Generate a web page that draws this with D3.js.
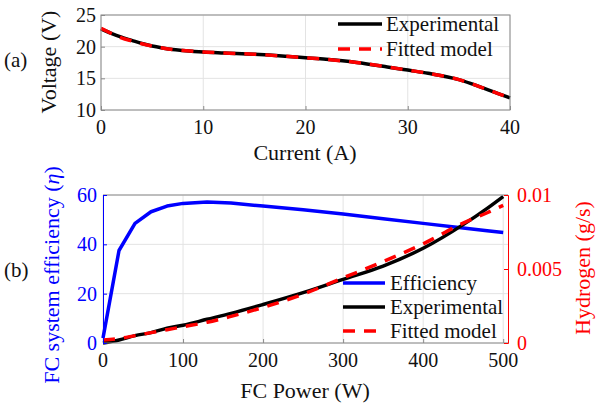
<!DOCTYPE html>
<html>
<head>
<meta charset="utf-8">
<script src="https://cdn.jsdelivr.net/npm/d3@7"></script>
</head>
<body style="margin:0">
<div id="chart"></div>
<script>
// (a) polarization curve
var current = [0, 1, 2, 3, 4, 5, 6, 7, 8, 10, 12, 15, 18, 20, 22, 25, 28, 30, 32, 35, 37, 38, 40];
var voltageExp = [22.8, 22.1, 21.5, 21.0, 20.5, 20.1, 19.8, 19.55, 19.4, 19.15, 19.0, 18.8, 18.5, 18.25, 18.0, 17.5, 16.8, 16.3, 15.8, 14.8, 13.7, 13.1, 11.9];
var voltageFit = [22.9, 22.1, 21.4, 20.9, 20.45, 20.1, 19.8, 19.55, 19.4, 19.15, 19.0, 18.8, 18.5, 18.25, 18.0, 17.5, 16.8, 16.3, 15.8, 14.8, 13.7, 13.1, 11.9];

// (b) efficiency and hydrogen vs power
var power = [0, 20, 40, 60, 80, 100, 130, 160, 200, 250, 300, 350, 400, 450, 480, 500];
var efficiency = [2, 37.5, 48.5, 53.2, 55.5, 56.6, 57.2, 56.8, 55.5, 54, 52.3, 50.4, 48.5, 46.6, 45.5, 44.8];
var hydrogenExp = [0, 0.0002, 0.0005, 0.0007, 0.001, 0.0012, 0.0016, 0.002, 0.0026, 0.0034, 0.0043, 0.0052, 0.0064, 0.008, 0.0091, 0.0099];
var hydrogenFit = [0.0002, 0.0003, 0.0005, 0.0007, 0.0009, 0.0011, 0.0014, 0.0018, 0.0024, 0.0033, 0.0044, 0.0055, 0.0067, 0.0081, 0.0088, 0.0093];

var xTicksA = [0, 10, 20, 30, 40], yTicksA = [10, 15, 20, 25];
var xTicksB = [0, 100, 200, 300, 400, 500], yTicksB = [0, 20, 40, 60], y2TicksB = [0, 0.005, 0.01];
var y2Labels = ["0", "0.005", "0.01"];

var width = 598, height = 409;
var svg = d3.select("#chart").append("svg")
	.attr("width", width).attr("height", height)
	.attr("font-family", "serif");

var grid = "#e3e3e3", edge = "#8a8a8a";

function label(x, y, str, size, color, anchor, rot) {
	var t = svg.append("text")
		.style("font-family", "serif")
		.attr("font-size", size).attr("fill", color || "#111")
		.attr("text-anchor", anchor || "start");
	if (rot) t.attr("transform", "translate(" + x + "," + y + ") rotate(-90)");
	else t.attr("x", x).attr("y", y);
	t.text(str);
	return t;
}

function tickLines(g, color) {
	g.selectAll("text").remove();
	g.selectAll(".tick line").attr("stroke", color);
}

// ---------- panel (a) ----------
var xA = d3.scaleLinear().domain([0, 40]).range([101, 510]);
var yA = d3.scaleLinear().domain([10, 25]).range([110, 15]);

var gA = svg.append("g");
gA.selectAll(".gx").data(xTicksA).enter().append("line")
	.attr("x1", xA).attr("x2", xA).attr("y1", 15).attr("y2", 110)
	.attr("stroke", grid);
gA.selectAll(".gy").data(yTicksA).enter().append("line")
	.attr("x1", 101).attr("x2", 510).attr("y1", yA).attr("y2", yA)
	.attr("stroke", grid);

var lineA = d3.line().x(function (d) { return xA(d[0]) }).y(function (d) { return yA(d[1]) }).curve(d3.curveMonotoneX);
gA.append("path").datum(d3.zip(current, voltageExp))
	.attr("d", lineA).attr("fill", "none").attr("stroke", "black").attr("stroke-width", 3.5);
gA.append("path").datum(d3.zip(current, voltageFit))
	.attr("d", lineA).attr("fill", "none").attr("stroke", "#ff0000").attr("stroke-width", 3.5)
	.attr("stroke-dasharray", "12,9");

gA.append("rect").attr("x", 101).attr("y", 15).attr("width", 409).attr("height", 95)
	.attr("fill", "none").attr("stroke", edge).attr("stroke-width", 1);

gA.append("g").attr("transform", "translate(0,110)")
	.call(d3.axisBottom(xA).tickValues(xTicksA).tickSize(-4))
	.call(function (g) { g.select(".domain").remove() })
	.call(function (g) { tickLines(g, edge) });
gA.append("g").attr("transform", "translate(101,0)")
	.call(d3.axisLeft(yA).tickValues(yTicksA).tickSize(-4))
	.call(function (g) { g.select(".domain").remove() })
	.call(function (g) { tickLines(g, edge) });

xTicksA.forEach(function (d) { label(xA(d), 134, String(d), 20, "#111", "middle") });
yTicksA.forEach(function (d) { label(96, yA(d) + 7, String(d), 20, "#111", "end") });

label(305, 160, "Current (A)", 22, "#111", "middle");
label(56, 62, "Voltage (V)", 22, "#111", "middle", true);
label(4, 67, "(a)", 21, "#111");

var legA = [["Experimental", "black", null], ["Fitted model", "#ff0000", "12,9"]];
legA.forEach(function (l, i) {
	var y = 24 + i * 25;
	gA.append("line").attr("x1", 338).attr("x2", 382).attr("y1", y).attr("y2", y)
		.attr("stroke", l[1]).attr("stroke-width", 3.5).attr("stroke-dasharray", l[2]);
	label(386, y + 7, l[0], 21, "#111");
});

// ---------- panel (b) ----------
var xB = d3.scaleLinear().domain([0, 506]).range([103, 508]);
var yB = d3.scaleLinear().domain([0, 60]).range([343, 195]);
var y2B = d3.scaleLinear().domain([0, 0.01]).range([343, 195]);

var gB = svg.append("g");
gB.selectAll(".gx").data(xTicksB).enter().append("line")
	.attr("x1", xB).attr("x2", xB).attr("y1", 195).attr("y2", 343)
	.attr("stroke", grid);
gB.selectAll(".gy").data(yTicksB).enter().append("line")
	.attr("x1", 103).attr("x2", 508).attr("y1", yB).attr("y2", yB)
	.attr("stroke", grid);

var lineEff = d3.line().x(function (d) { return xB(d[0]) }).y(function (d) { return yB(d[1]) });
var lineH = d3.line().x(function (d) { return xB(d[0]) }).y(function (d) { return y2B(d[1]) }).curve(d3.curveMonotoneX);

gB.append("path").datum(d3.zip(power, efficiency))
	.attr("d", lineEff).attr("fill", "none").attr("stroke", "#0000ff").attr("stroke-width", 3.5)
	.attr("stroke-linejoin", "round");
gB.append("path").datum(d3.zip(power, hydrogenExp))
	.attr("d", lineH).attr("fill", "none").attr("stroke", "black").attr("stroke-width", 3.5);
gB.append("path").datum(d3.zip(power, hydrogenFit))
	.attr("d", lineH).attr("fill", "none").attr("stroke", "#ff0000").attr("stroke-width", 3.5)
	.attr("stroke-dasharray", "12,9");

gB.append("line").attr("x1", 103).attr("x2", 508).attr("y1", 195).attr("y2", 195).attr("stroke", edge);
gB.append("line").attr("x1", 103).attr("x2", 508).attr("y1", 343).attr("y2", 343).attr("stroke", edge);

gB.append("g").attr("transform", "translate(0,343)")
	.call(d3.axisBottom(xB).tickValues(xTicksB).tickSize(-4))
	.call(function (g) { g.select(".domain").remove() })
	.call(function (g) { tickLines(g, edge) });
gB.append("g").attr("transform", "translate(103,0)")
	.call(d3.axisLeft(yB).tickValues(yTicksB).tickSize(-4))
	.call(function (g) { g.select(".domain").attr("stroke", "#0000ff") })
	.call(function (g) { tickLines(g, "#0000ff") });
gB.append("g").attr("transform", "translate(508,0)")
	.call(d3.axisRight(y2B).tickValues(y2TicksB).tickSize(-4))
	.call(function (g) { g.select(".domain").attr("stroke", "#ff0000") })
	.call(function (g) { tickLines(g, "#ff0000") });

xTicksB.forEach(function (d) { label(xB(d), 367, String(d), 20, "#111", "middle") });
yTicksB.forEach(function (d) { label(97, yB(d) + 7, String(d), 20, "#0000ff", "end") });
y2TicksB.forEach(function (d, i) { label(517, y2B(d) + 7, y2Labels[i], 20, "#ff0000", "start") });

label(305, 398, "FC Power (W)", 22, "#111", "middle");
var effLabel = svg.append("text").style("font-family", "serif")
	.attr("transform", "translate(59,275) rotate(-90)").attr("text-anchor", "middle")
	.attr("font-size", 22).attr("fill", "#0000ff");
effLabel.append("tspan").text("FC system efficiency (");
effLabel.append("tspan").attr("font-style", "italic").text("η");
effLabel.append("tspan").text(")");
label(590, 268, "Hydrogen (g/s)", 22, "#ff0000", "middle", true);
label(4, 277, "(b)", 21, "#111");

var legB = [["Efficiency", "#0000ff", null], ["Experimental", "black", null], ["Fitted model", "#ff0000", "12,9"]];
legB.forEach(function (l, i) {
	var y = 283 + i * 24;
	gB.append("line").attr("x1", 343).attr("x2", 385).attr("y1", y).attr("y2", y)
		.attr("stroke", l[1]).attr("stroke-width", 3.5).attr("stroke-dasharray", l[2]);
	label(390, y + 7, l[0], 21, "#111");
});
</script>
</body>
</html>
